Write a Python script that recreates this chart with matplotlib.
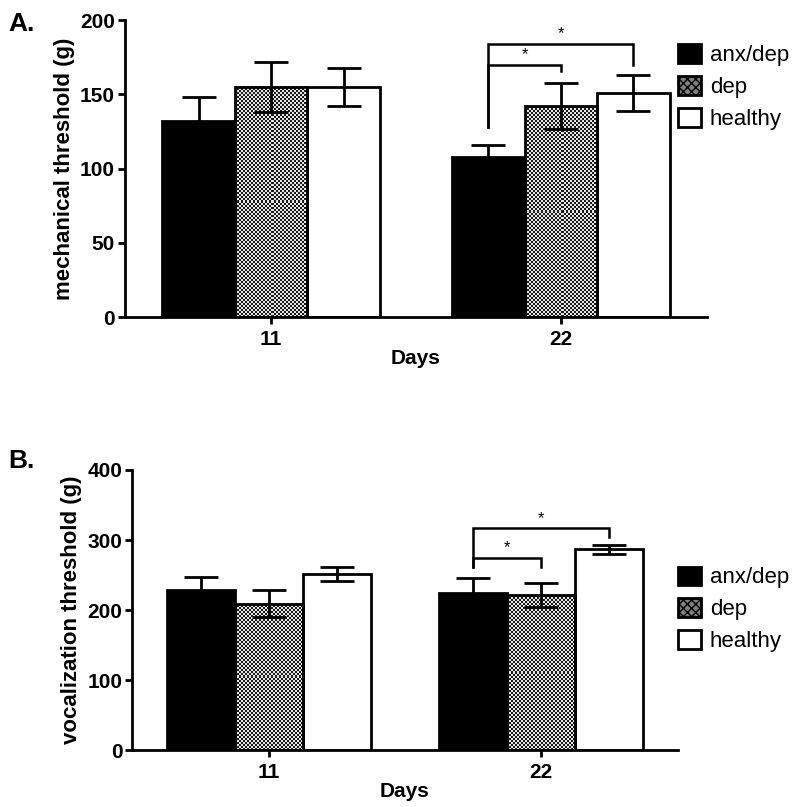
import matplotlib
matplotlib.use("Agg")
import matplotlib.pyplot as plt
import numpy as np
from matplotlib.patches import Patch
from matplotlib.colors import ListedColormap

plt.rcParams['font.family'] = ['Liberation Sans', 'DejaVu Sans']

days = ['11', '22']
groups = ['anx/dep', 'dep', 'healthy']

mech_mean = {'anx/dep': [132, 108], 'dep': [155, 142], 'healthy': [155, 151]}
mech_err = {'anx/dep': [16, 8], 'dep': [17, 15.5], 'healthy': [12.5, 12]}
voc_mean = {'anx/dep': [228, 225], 'dep': [209, 221], 'healthy': [251, 287]}
voc_err = {'anx/dep': [19, 21], 'dep': [19, 17], 'healthy': [10, 6.5]}

# significance brackets: (group_a, group_b, bracket level, left leg bottom, right leg bottom)
mech_sig = [('anx/dep', 'dep', 170, 128, 166), ('anx/dep', 'healthy', 184, 128, 170)]
voc_sig = [('anx/dep', 'dep', 275, 262, 262), ('anx/dep', 'healthy', 317, 262, 304)]

width = 0.25
offsets = {'anx/dep': -width, 'dep': 0.0, 'healthy': width}
LW = 2.0
checker_cmap = ListedColormap(['#1a1a1a', '#e6e6e6'])

fig = plt.figure(figsize=(8, 8.07), dpi=100)
axA = fig.add_axes([0.156, 0.607, 0.728, 0.368])
axB = fig.add_axes([0.165, 0.0706, 0.6825, 0.347])


def checker_fill(ax, x0, x1, y1):
    p0 = ax.transData.transform((x0, 0))
    p1 = ax.transData.transform((x1, y1))
    nc = max(1, int(round(abs(p1[0] - p0[0]) / 2)))
    nr = max(1, int(round(abs(p1[1] - p0[1]) / 2)))
    ii, jj = np.indices((nr, nc))
    ax.imshow((ii + jj) % 2, cmap=checker_cmap, extent=(x0, x1, 0, y1), aspect='auto',
              interpolation='nearest', zorder=2)


def draw(ax, means, errs, sig, ymax, ystep, ylabel, legend_y):
    x = np.arange(len(days))
    ax.set_xlim(-0.505, 1.505)
    ax.set_ylim(0, ymax)
    handles = []
    for g in groups:
        xs = x + offsets[g]
        if g == 'anx/dep':
            ax.bar(xs, means[g], width, color='black', edgecolor='black', lw=LW, zorder=2)
            h = Patch(facecolor='black', edgecolor='black', lw=LW)
        elif g == 'dep':
            for xi, m in zip(xs, means[g]):
                checker_fill(ax, xi - width / 2, xi + width / 2, m)
            ax.bar(xs, means[g], width, fill=False, edgecolor='black', lw=LW, zorder=3)
            h = Patch(facecolor='#808080', edgecolor='black', lw=LW, hatch='xxxx')
        else:
            ax.bar(xs, means[g], width, color='white', edgecolor='black', lw=LW, zorder=2)
            h = Patch(facecolor='white', edgecolor='black', lw=LW)
        ax.errorbar(xs, means[g], yerr=errs[g], fmt='none', ecolor='black',
                    elinewidth=LW, capsize=12.5, capthick=LW, zorder=4)
        handles.append(h)
    # significance brackets at day 22
    for ga, gb, lvl, lb, rb in sig:
        xa = 1 + offsets[ga]
        xb = 1 + offsets[gb]
        ax.plot([xa, xa, xb, xb], [lb, lvl, lvl, rb], color='black', lw=1.8,
                solid_joinstyle='miter', zorder=5, clip_on=False)
        ax.text((xa + xb) / 2, lvl + ymax * 0.008, '*', ha='center', va='bottom',
                fontsize=12, zorder=5)
    ax.set_xlim(-0.505, 1.505)
    ax.set_ylim(0, ymax)
    ax.set_yticks(np.arange(0, ymax + 1, ystep))
    ax.set_xticks(x)
    ax.set_xticklabels(days)
    for s in ['top', 'right']:
        ax.spines[s].set_visible(False)
    for s in ['left', 'bottom']:
        ax.spines[s].set_linewidth(LW)
    ax.tick_params(axis='both', width=LW, length=5, direction='out', labelsize=15)
    ax.tick_params(axis='x', pad=4)
    ax.tick_params(axis='y', pad=2)
    for lab in ax.get_xticklabels() + ax.get_yticklabels():
        lab.set_fontweight('bold')
    ax.set_ylabel(ylabel, fontsize=16, fontweight='bold', labelpad=4)
    ax.set_xlabel('Days', fontsize=15, fontweight='bold', labelpad=0)
    fig.legend(handles, groups, loc='upper left', bbox_to_anchor=(0.847, legend_y),
               frameon=False, fontsize=16, handlelength=1.05, handleheight=0.9,
               handletextpad=0.4, labelspacing=0.45, borderaxespad=0, borderpad=0)


draw(axA, mech_mean, mech_err, mech_sig, 200, 50, 'mechanical threshold (g)', 0.945)
draw(axB, voc_mean, voc_err, voc_sig, 400, 100, 'vocalization threshold (g)', 0.298)

fig.text(0.01, 0.985, 'A.', fontsize=19, fontweight='bold', va='top')
fig.text(0.01, 0.443, 'B.', fontsize=19, fontweight='bold', va='top')

fig.savefig('out.png', dpi=100)
